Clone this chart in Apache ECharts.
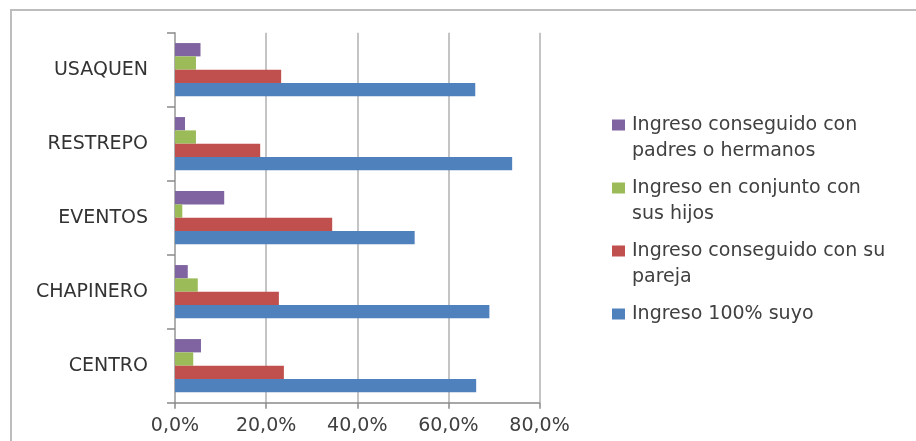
<!DOCTYPE html>
<html>
<head>
<meta charset="utf-8">
<script src="https://cdn.jsdelivr.net/npm/echarts@6/dist/echarts.min.js"></script>
<style>
html,body{margin:0;padding:0;background:#fff;}
#chart{width:916px;height:441px;}
</style>
</head>
<body>
<div id="chart"></div>
<script>
var categories = ['CENTRO', 'CHAPINERO', 'EVENTOS', 'RESTREPO', 'USAQUEN'];
var seriesNames = [
  'Ingreso 100% suyo',
  'Ingreso conseguido con su pareja',
  'Ingreso en conjunto con sus hijos',
  'Ingreso conseguido con padres o hermanos'
];
var legendLines = {
  'Ingreso conseguido con padres o hermanos': 'Ingreso conseguido con\npadres o hermanos',
  'Ingreso en conjunto con sus hijos': 'Ingreso en conjunto con\nsus hijos',
  'Ingreso conseguido con su pareja': 'Ingreso conseguido con su\npareja',
  'Ingreso 100% suyo': 'Ingreso 100% suyo\n '
};
var propio = [66.1, 69.0, 52.6, 74.0, 65.9];
var pareja = [23.9, 22.8, 34.5, 18.7, 23.3];
var hijos = [4.0, 5.0, 1.6, 4.6, 4.6];
var padres = [5.7, 2.8, 10.8, 2.2, 5.6];
var xTicks = [0, 20, 40, 60, 80];

var colors = ['#4F81BD', '#C0504D', '#9BBB59', '#8064A2'];
var values = [propio, pareja, hijos, padres];

var chart = echarts.init(document.getElementById('chart'), null, {renderer: 'canvas'});
var font = 'DejaVu Sans';
var iconPath = 'path://M0,0h13v11h-13z M14.95,36.95h0.05v0.05h-0.05z';

var order = [3, 2, 1, 0];

var option = {
  animation: false,
  backgroundColor: '#ffffff',
  graphic: [{
    type: 'line',
    silent: true,
    shape: {x1: 10, y1: 10, x2: 916, y2: 10},
    style: {stroke: '#bdbdbd', lineWidth: 2}
  }, {
    type: 'line',
    silent: true,
    shape: {x1: 11, y1: 9, x2: 11, y2: 441},
    style: {stroke: '#bdbdbd', lineWidth: 2}
  }],
  grid: {left: 175, right: 916 - 539.5, top: 32.7, bottom: 441 - 402.7},
  legend: {
    orient: 'vertical',
    left: 612,
    top: 112,
    padding: 0,
    itemGap: 11,
    itemWidth: 15,
    itemHeight: 37,
    symbolKeepAspect: false,
    icon: iconPath,
    data: order.map(function (i) { return seriesNames[i]; }),
    formatter: function (n) { return legendLines[n]; },
    textStyle: {fontFamily: font, fontSize: 19, lineHeight: 26, color: '#404040'}
  },
  xAxis: {
    type: 'value',
    min: xTicks[0],
    max: xTicks[xTicks.length - 1],
    interval: 20,
    axisLine: {show: true, lineStyle: {color: '#8a8a8a', width: 1.5}},
    axisTick: {show: true, length: 6, lineStyle: {color: '#8a8a8a', width: 1.5}},
    splitLine: {show: true, lineStyle: {color: '#c4c4c4', width: 2}},
    axisLabel: {
      margin: 14,
      fontFamily: font, fontSize: 19, color: '#404040',
      formatter: function (v) { return v.toFixed(1).replace('.', ',') + '%'; }
    }
  },
  yAxis: {
    type: 'category',
    data: categories,
    axisLine: {show: true, lineStyle: {color: '#a8a8a8', width: 1.5}},
    axisTick: {show: true, length: 8, lineStyle: {color: '#8a8a8a', width: 1.5}},
    splitLine: {show: false},
    axisLabel: {margin: 27, fontFamily: font, fontSize: 19, color: '#333333'}
  },
  series: order.map(function (i) {
    return {
      name: seriesNames[i],
      type: 'bar',
      data: values[i],
      barGap: '0%',
      barCategoryGap: '28%',
      itemStyle: {color: colors[i]}
    };
  })
};
chart.setOption(option);
</script>
</body>
</html>
